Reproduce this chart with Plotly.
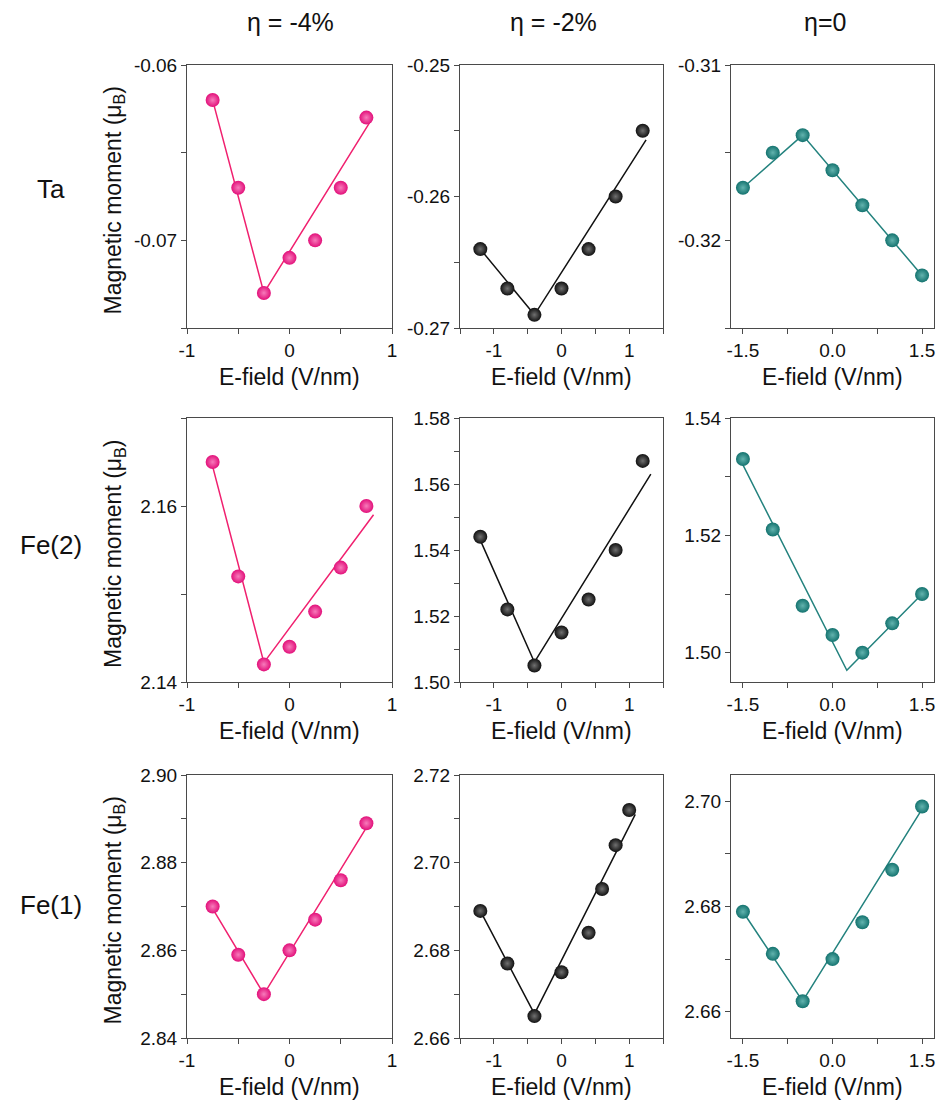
import plotly.graph_objects as go

W, H = 937, 1108

col_titles = ["η = -4%", "η = -2%", "η=0"]
row_labels = ["Ta", "Fe(2)", "Fe(1)"]

# E-field values (V/nm)
e_m4 = [-0.75, -0.5, -0.25, 0.0, 0.25, 0.5, 0.75]
e_m2 = [-1.2, -0.8, -0.4, 0.0, 0.4, 0.8, 1.2]
e_m2_fe1 = [-1.2, -0.8, -0.4, 0.0, 0.4, 0.6, 0.8, 1.0]
e_0 = [-1.5, -1.0, -0.5, 0.0, 0.5, 1.0, 1.5]

# Magnetic moments (muB)
ta_m4 = [-0.062, -0.067, -0.073, -0.071, -0.070, -0.067, -0.063]
ta_m2 = [-0.264, -0.267, -0.269, -0.267, -0.264, -0.260, -0.255]
ta_0 = [-0.317, -0.315, -0.314, -0.316, -0.318, -0.320, -0.322]
fe2_m4 = [2.165, 2.152, 2.142, 2.144, 2.148, 2.153, 2.160]
fe2_m2 = [1.544, 1.522, 1.505, 1.515, 1.525, 1.540, 1.567]
fe2_0 = [1.533, 1.521, 1.508, 1.503, 1.500, 1.505, 1.510]
fe1_m4 = [2.870, 2.859, 2.850, 2.860, 2.867, 2.876, 2.889]
fe1_m2 = [2.689, 2.677, 2.665, 2.675, 2.684, 2.694, 2.704, 2.712]
fe1_0 = [2.679, 2.671, 2.662, 2.670, 2.677, 2.687, 2.699]

# Piecewise linear fits (x, y)
ta_m4_fit_x = [-0.75, -0.25, 0.78]
ta_m4_fit_y = [-0.062, -0.073, -0.0633]
ta_m2_fit_x = [-1.2, -0.4, 1.25]
ta_m2_fit_y = [-0.264, -0.269, -0.2557]
ta_0_fit_x = [-1.5, -0.5, 1.5]
ta_0_fit_y = [-0.317, -0.314, -0.322]
fe2_m4_fit_x = [-0.75, -0.25, 0.82]
fe2_m4_fit_y = [2.1645, 2.1422, 2.159]
fe2_m2_fit_x = [-1.2, -0.4, 1.32]
fe2_m2_fit_y = [1.543, 1.506, 1.563]
fe2_0_fit_x = [-1.5, 0.24, 1.5]
fe2_0_fit_y = [1.532, 1.497, 1.510]
fe1_m4_fit_x = [-0.75, -0.25, 0.75]
fe1_m4_fit_y = [2.8695, 2.850, 2.888]
fe1_m2_fit_x = [-1.2, -0.4, 1.09]
fe1_m2_fit_y = [2.689, 2.6655, 2.711]
fe1_0_fit_x = [-1.5, -0.5, 1.5]
fe1_0_fit_y = [2.679, 2.662, 2.6985]

# Tick labels
xt_m4 = [-1, 0, 1]
xt_m2 = [-1, 0, 1]
xt_0 = [-1.5, 0.0, 1.5]
xt_0_text = ["-1.5", "0.0", "1.5"]
yt_ta_m4 = [-0.06, -0.07]
yt_ta_m2 = [-0.25, -0.26, -0.27]
yt_ta_0 = [-0.31, -0.32]
yt_fe2_m4 = [2.14, 2.16]
yt_fe2_m2 = [1.50, 1.52, 1.54, 1.56, 1.58]
yt_fe2_0 = [1.50, 1.52, 1.54]
yt_fe1_m4 = [2.84, 2.86, 2.88, 2.90]
yt_fe1_m2 = [2.66, 2.68, 2.70, 2.72]
yt_fe1_0 = [2.66, 2.68, 2.70]

panels = [
    # row 0 : Ta
    dict(x=e_m4, y=ta_m4, fx=ta_m4_fit_x, fy=ta_m4_fit_y, xr=[-1, 1], yr=[-0.075, -0.06],
         xt=xt_m4, xtt=None, xm=0.5, yt=yt_ta_m4, ym=0.005, y0=-0.06),
    dict(x=e_m2, y=ta_m2, fx=ta_m2_fit_x, fy=ta_m2_fit_y, xr=[-1.5, 1.5], yr=[-0.27, -0.25],
         xt=xt_m2, xtt=None, xm=0.5, yt=yt_ta_m2, ym=0.005, y0=-0.25),
    dict(x=e_0, y=ta_0, fx=ta_0_fit_x, fy=ta_0_fit_y, xr=[-1.7, 1.7], yr=[-0.325, -0.31],
         xt=xt_0, xtt=xt_0_text, xm=0.75, yt=yt_ta_0, ym=0.005, y0=-0.31),
    # row 1 : Fe(2)
    dict(x=e_m4, y=fe2_m4, fx=fe2_m4_fit_x, fy=fe2_m4_fit_y, xr=[-1, 1], yr=[2.14, 2.17],
         xt=xt_m4, xtt=None, xm=0.5, yt=yt_fe2_m4, ym=0.01, y0=2.14),
    dict(x=e_m2, y=fe2_m2, fx=fe2_m2_fit_x, fy=fe2_m2_fit_y, xr=[-1.5, 1.5], yr=[1.50, 1.58],
         xt=xt_m2, xtt=None, xm=0.5, yt=yt_fe2_m2, ym=0.01, y0=1.50),
    dict(x=e_0, y=fe2_0, fx=fe2_0_fit_x, fy=fe2_0_fit_y, xr=[-1.7, 1.7], yr=[1.495, 1.54],
         xt=xt_0, xtt=xt_0_text, xm=0.75, yt=yt_fe2_0, ym=0.01, y0=1.50),
    # row 2 : Fe(1)
    dict(x=e_m4, y=fe1_m4, fx=fe1_m4_fit_x, fy=fe1_m4_fit_y, xr=[-1, 1], yr=[2.84, 2.90],
         xt=xt_m4, xtt=None, xm=0.5, yt=yt_fe1_m4, ym=0.01, y0=2.84),
    dict(x=e_m2_fe1, y=fe1_m2, fx=fe1_m2_fit_x, fy=fe1_m2_fit_y, xr=[-1.5, 1.5], yr=[2.66, 2.72],
         xt=xt_m2, xtt=None, xm=0.5, yt=yt_fe1_m2, ym=0.01, y0=2.66),
    dict(x=e_0, y=fe1_0, fx=fe1_0_fit_x, fy=fe1_0_fit_y, xr=[-1.7, 1.7], yr=[2.655, 2.705],
         xt=xt_0, xtt=xt_0_text, xm=0.75, yt=yt_fe1_0, ym=0.01, y0=2.66),
]

col_px = [(187, 392), (460, 663), (731, 934)]
row_px = [(65, 328), (418, 682), (775, 1038)]
line_colors = ["#F0206F", "#111111", "#23827E"]
marker_colors = ["#E2107A", "#101010", "#14736F"]
grad_colors = ["#F77BBB", "#707070", "#62B3AE"]

FONT = "Arial, Liberation Sans, sans-serif"
AX = "#4a4a4a"

fig = go.Figure()
layout = dict(width=W, height=H, margin=dict(l=0, r=0, t=0, b=0, pad=0),
              paper_bgcolor="white", plot_bgcolor="white", showlegend=False,
              font=dict(family=FONT, color="#111"))
annotations = []

for i, p in enumerate(panels):
    r, c = divmod(i, 3)
    k = i + 1
    xs = "" if k == 1 else str(k)
    x0, x1 = col_px[c]
    t0, t1 = row_px[r]
    fig.add_trace(go.Scatter(x=p["fx"], y=p["fy"], mode="lines",
                             line=dict(color=line_colors[c], width=1.5),
                             xaxis="x" + xs, yaxis="y" + xs, hoverinfo="skip"))
    fig.add_trace(go.Scatter(x=p["x"], y=p["y"], mode="markers",
                             marker=dict(size=14, color=marker_colors[c],
                                         gradient=dict(type="radial", color=grad_colors[c]),
                                         line=dict(width=0)),
                             xaxis="x" + xs, yaxis="y" + xs))
    xtt = p["xtt"] if p["xtt"] is not None else ["%g" % v for v in p["xt"]]
    ytt = ["%.2f" % v for v in p["yt"]]
    common = dict(showline=True, mirror=True, linecolor=AX, linewidth=1,
                  ticks="outside", ticklen=5, tickcolor=AX, tickwidth=1,
                  showgrid=False, zeroline=False, automargin=False,
                  tickfont=dict(size=19, family=FONT, color="#111"))
    layout["xaxis" + xs] = dict(domain=[x0 / W, x1 / W], anchor="y" + xs,
                                range=p["xr"], tickmode="array", tickvals=p["xt"], ticktext=xtt,
                                minor=dict(dtick=p["xm"], tick0=0, ticks="outside", ticklen=5,
                                           tickcolor=AX, showgrid=False),
                                **common)
    layout["yaxis" + xs] = dict(domain=[1 - t1 / H, 1 - t0 / H], anchor="x" + xs,
                                range=p["yr"], tickmode="array", tickvals=p["yt"], ticktext=ytt,
                                minor=dict(dtick=p["ym"], tick0=p["y0"], ticks="outside", ticklen=5,
                                           tickcolor=AX, showgrid=False),
                                **common)
    annotations.append(dict(text="E-field (V/nm)", xref="paper", yref="paper",
                            x=(x0 + x1) / 2 / W, y=1 - (t1 + 49) / H,
                            xanchor="center", yanchor="middle", showarrow=False,
                            font=dict(size=23, family=FONT, color="#111")))

col_title_x = [290, 553, 825]
for c, t in enumerate(col_titles):
    annotations.append(dict(text=t, xref="paper", yref="paper", x=col_title_x[c] / W, y=1 - 22 / H,
                            xanchor="center", yanchor="middle", showarrow=False,
                            font=dict(size=25, family=FONT, color="#111")))

row_label_y = [189, 545, 905]
for r, t in enumerate(row_labels):
    annotations.append(dict(text=t, xref="paper", yref="paper", x=51 / W, y=1 - row_label_y[r] / H,
                            xanchor="center", yanchor="middle", showarrow=False,
                            font=dict(size=26, family=FONT, color="#111")))
    t0, t1 = row_px[r]
    annotations.append(dict(text="Magnetic moment (μ<sub>B</sub>)", xref="paper", yref="paper",
                            x=114 / W, y=1 - ((t0 + t1) / 2 + 4) / H, textangle=-90,
                            xanchor="center", yanchor="middle", showarrow=False,
                            font=dict(size=23, family=FONT, color="#111")))

layout["annotations"] = annotations
fig.update_layout(**layout)

# place the graph at the page origin (no default body margin / scrollbars)
post = ("document.documentElement.style.margin='0';document.documentElement.style.overflow='hidden';"
        "document.body.style.margin='0';document.body.style.padding='0';document.body.style.overflow='hidden';"
        "var gd=document.getElementById('{plot_id}');gd.style.position='absolute';"
        "gd.style.left='0px';gd.style.top='0px';")
fig.write_html("out.html", post_script=post, config={"displayModeBar": False})
